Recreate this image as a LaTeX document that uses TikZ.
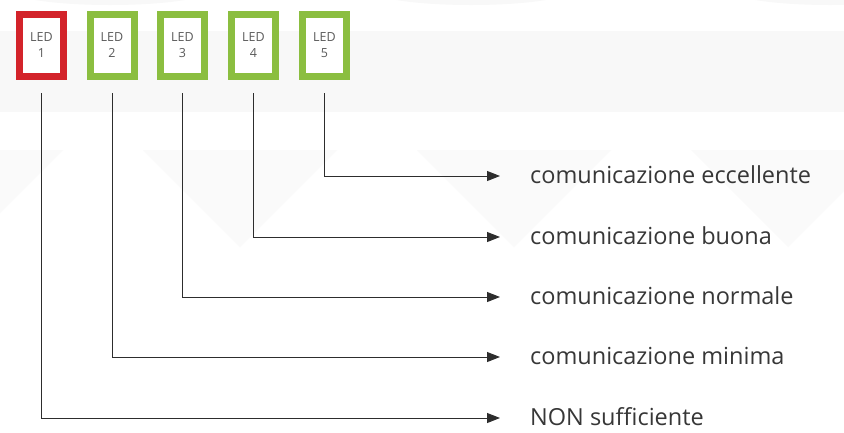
\documentclass[tikz,border=0pt]{standalone}
\usepackage{fontspec}
\setmainfont{Open Sans}
\usetikzlibrary{arrows.meta}
\definecolor{ledred}{RGB}{211,35,42}
\definecolor{ledgreen}{RGB}{139,190,64}
\definecolor{wm}{RGB}{248,248,248}
\definecolor{txt}{RGB}{55,55,55}
\definecolor{ledtxt}{RGB}{90,90,90}
\definecolor{conncol}{RGB}{45,45,45}
\tikzset{
  ledbox/.style={rectangle, fill=white, line width=7pt, minimum width=44pt, minimum height=62pt,
    inner sep=0pt, align=center, text=ledtxt, font=\fontsize{12.5}{16}\selectfont},
  lbl/.style={anchor=base west, inner sep=0pt, text=txt, font=\fontsize{23.5}{27}\selectfont},
  conn/.style={draw=conncol, line width=1pt, -{Triangle[length=13pt,width=10pt]}},
}
\begin{document}
\begin{tikzpicture}[x=1pt,y=-1pt]
\useasboundingbox (0,0) rectangle (844,432);
% faint watermark background
\fill[white] (0,0) rectangle (844,432);
\fill[wm] (0,31) rectangle (844,112);
\foreach \c in {-34,240,514,788}{
  \fill[wm!70!white] (\c-97,150) -- (\c+97,150) -- (\c,247) -- cycle;
}
\foreach \c in {110,471,830}{
  \fill[wm] (\c,-10) ellipse [x radius=100, y radius=15];
}
% LEDs
\node[ledbox, draw=ledred]   (L1) at (41.5,45.5)  {LED\\1};
\node[ledbox, draw=ledgreen] (L2) at (112,45.5)   {LED\\2};
\node[ledbox, draw=ledgreen] (L3) at (182.5,45.5) {LED\\3};
\node[ledbox, draw=ledgreen] (L4) at (253.5,45.5) {LED\\4};
\node[ledbox, draw=ledgreen] (L5) at (324.5,45.5) {LED\\5};
% labels
\node[lbl] (T5) at (530,183) {comunicazione eccellente};
\node[lbl] (T4) at (530,244) {comunicazione buona};
\node[lbl] (T3) at (530,304) {comunicazione normale};
\node[lbl] (T2) at (530,364) {comunicazione minima};
\node[lbl] (T1) at (530,425) {NON sufficiente};
% connectors
\coordinate (E5) at (500,176);
\coordinate (E4) at (500,237);
\coordinate (E3) at (500,297);
\coordinate (E2) at (500,357);
\coordinate (E1) at (500,418);
\draw[conn] ([yshift=-13pt]L5.south) |- (E5);
\draw[conn] ([yshift=-13pt]L4.south) |- (E4);
\draw[conn] ([yshift=-13pt]L3.south) |- (E3);
\draw[conn] ([yshift=-13pt]L2.south) |- (E2);
\draw[conn] ([yshift=-13pt]L1.south) |- (E1);
\end{tikzpicture}
\end{document}
